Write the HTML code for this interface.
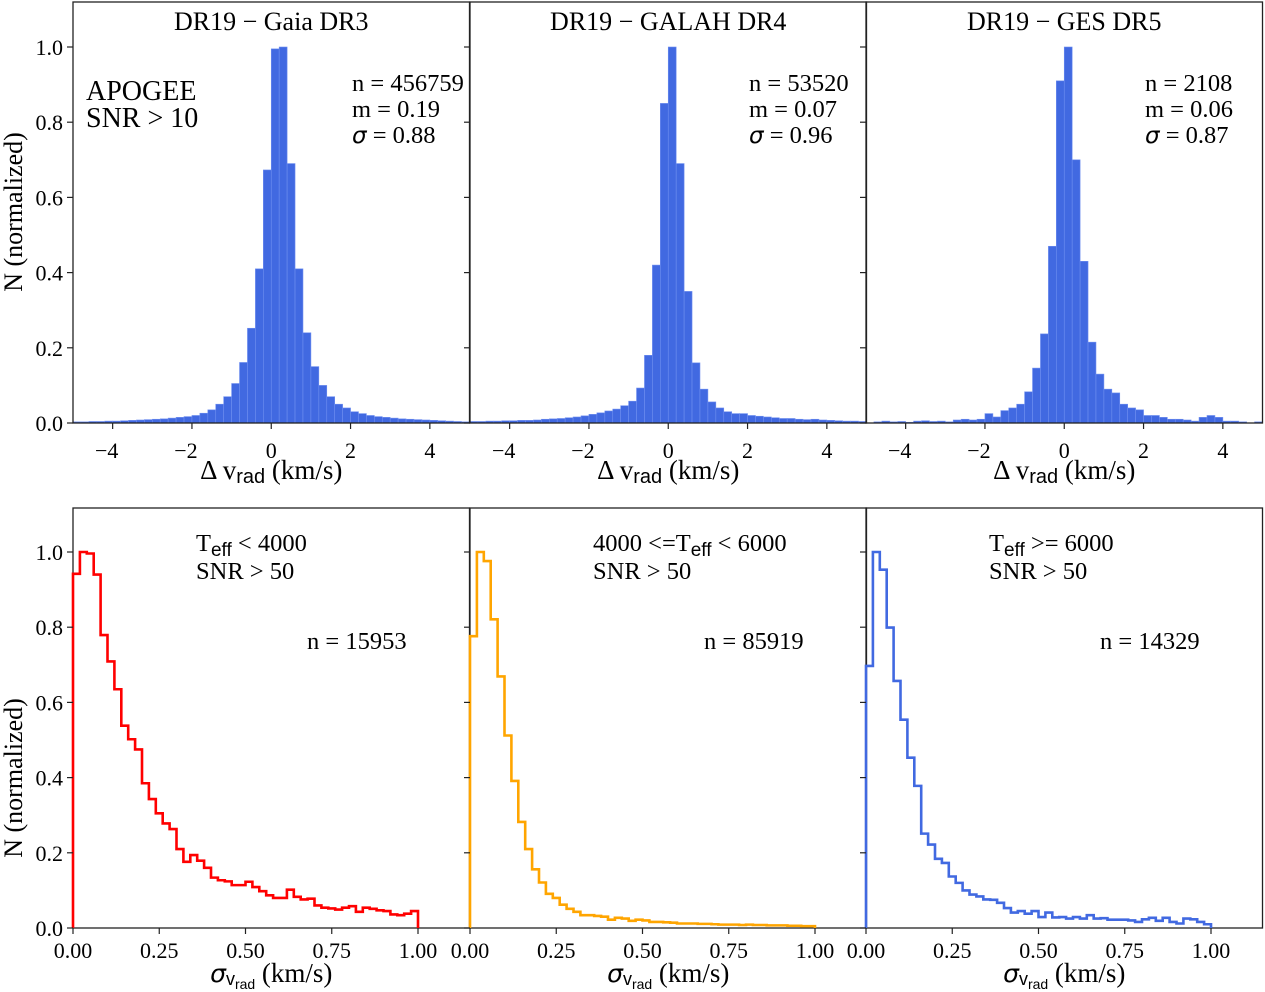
<!DOCTYPE html>
<html><head><meta charset="utf-8">
<style>
html,body{margin:0;padding:0;background:#fff;}
svg{display:block;font-family:"Liberation Serif",serif;}
</style></head>
<body>
<svg id="chart" width="1265" height="992" viewBox="0 0 1265 992" xmlns="http://www.w3.org/2000/svg"></svg>
<script>
// ---- data ----
const topBinStart = -5, topBinWidth = 0.2;
const gaiaValues = [0.003,0.003,0.004,0.004,0.005,0.005,0.006,0.007,0.008,0.009,0.010,0.011,0.013,0.015,0.017,0.02,0.026,0.035,0.05,0.07,0.105,0.161,0.252,0.41,0.673,0.995,1.0,0.69,0.41,0.24,0.15,0.1,0.07,0.05,0.04,0.03,0.025,0.02,0.017,0.015,0.013,0.011,0.01,0.009,0.008,0.007,0.006,0.005,0.004,0.003];
const galahValues = [0.004,0.004,0.005,0.005,0.006,0.006,0.007,0.007,0.008,0.01,0.011,0.012,0.014,0.016,0.019,0.023,0.027,0.032,0.037,0.046,0.058,0.093,0.18,0.42,0.85,1.0,0.69,0.35,0.16,0.09,0.056,0.04,0.03,0.025,0.025,0.02,0.018,0.016,0.014,0.012,0.012,0.01,0.009,0.01,0.008,0.007,0.006,0.005,0.005,0.004];
const gesValues = [0,0.003,0.005,0.003,0.004,0.002,0.005,0.006,0.004,0.005,0.003,0.008,0.01,0.008,0.01,0.025,0.016,0.033,0.04,0.05,0.083,0.146,0.237,0.47,0.91,1.0,0.70,0.43,0.215,0.13,0.09,0.08,0.05,0.04,0.035,0.02,0.02,0.015,0.01,0.01,0.008,0.005,0.015,0.02,0.015,0.005,0.005,0.003,0,0.003];
const topTitles = ["DR19 \u2212 Gaia DR3","DR19 \u2212 GALAH DR4","DR19 \u2212 GES DR5"];
const topN = ["456759","53520","2108"];
const topM = ["0.19","0.07","0.06"];
const topSigma = ["0.88","0.96","0.87"];
const topXTicks = [-4,-2,0,2,4];
const yTicks = [0.0,0.2,0.4,0.6,0.8,1.0];
const yTickLabels = ["0.0","0.2","0.4","0.6","0.8","1.0"];

const botBinStart = 0, botBinWidth = 0.02;
const coolValues = [0.942,1.0,0.996,0.94,0.779,0.709,0.635,0.538,0.502,0.475,0.385,0.343,0.305,0.278,0.263,0.21,0.176,0.194,0.179,0.16,0.134,0.127,0.124,0.114,0.114,0.123,0.109,0.098,0.087,0.08,0.08,0.102,0.083,0.076,0.078,0.06,0.054,0.052,0.049,0.054,0.058,0.043,0.054,0.051,0.047,0.045,0.036,0.034,0.038,0.045];
const midValues = [0.776,1.0,0.976,0.821,0.669,0.512,0.391,0.282,0.21,0.156,0.121,0.091,0.08,0.062,0.051,0.043,0.034,0.034,0.032,0.03,0.022,0.027,0.025,0.019,0.022,0.02,0.016,0.016,0.015,0.014,0.012,0.012,0.012,0.011,0.011,0.01,0.009,0.009,0.009,0.008,0.009,0.008,0.008,0.007,0.007,0.007,0.006,0.006,0.005,0.005];
const hotValues = [0.697,1.0,0.953,0.799,0.657,0.554,0.453,0.378,0.251,0.222,0.184,0.173,0.137,0.12,0.1,0.089,0.084,0.076,0.075,0.067,0.053,0.041,0.045,0.038,0.045,0.029,0.041,0.028,0.029,0.025,0.029,0.025,0.034,0.025,0.026,0.022,0.022,0.022,0.02,0.016,0.023,0.027,0.019,0.027,0.016,0.012,0.025,0.023,0.016,0.01];
const botXTicks = [0,0.25,0.5,0.75,1.0];
const botXTickLabels = ["0.00","0.25","0.50","0.75","1.00"];
const botTeff = [["T","eff"," &lt; 4000"],["4000 &lt;=T","eff"," &lt; 6000"],["T","eff"," &gt;= 6000"]];
const botN = ["15953","85919","14329"];
const botColors = ["#ff0000","#ffa500","#4169e1"];

// ---- layout ----
const NS = "http://www.w3.org/2000/svg";
const svg = document.getElementById("chart");
const panelLefts = [73,470,866];
const panelW = 396.5;
const topP = {y0:2, base:423};
const botP = {y0:508, base:928};
const yUnit = 376;
function el(tag, attrs, parent){const e=document.createElementNS(NS,tag);for(const k in attrs)e.setAttribute(k,attrs[k]);(parent||svg).appendChild(e);return e;}
function txt(s, attrs, parent){const t=el("text",attrs,parent);t.textContent=s;return t;}
function yScaleTop(v){return topP.base - v*yUnit;}
function yScaleBot(v){return botP.base - v*yUnit;}
function xScaleTop(i,v){return panelLefts[i] + (v + 5)/10*panelW;}
function xScaleBot(i,v){return panelLefts[i] + v*345;}

// ---- top histograms ----
const topData=[gaiaValues,galahValues,gesValues];
for(let p=0;p<3;p++){
  const g=el("g",{});
  
  
  topData[p].forEach((v,i)=>{
    const x0=xScaleTop(p,topBinStart+i*topBinWidth), x1=xScaleTop(p,topBinStart+(i+1)*topBinWidth);
    const r=el("rect",{x:x0,y:yScaleTop(v),width:x1-x0,height:topP.base-yScaleTop(v),fill:"#4169e1",stroke:"#6f8ff0","stroke-width":0.6},g);
    
    
  });
  const fr=el("rect",{x:panelLefts[p],y:topP.y0,width:panelW,height:topP.base-topP.y0,fill:"none",stroke:"#222","stroke-width":1.3},g);
  
  
  topXTicks.forEach(t=>{
    const x=xScaleTop(p,t);
    el("line",{x1:x,x2:x,y1:topP.base,y2:topP.base+6,stroke:"#222","stroke-width":1.2},g);
    const lab=txt((t<0?"\u2212":"")+Math.abs(t),{x:t<0?x-6:x,y:458,"font-size":22,"text-anchor":"middle"},g);
    
    
  });
  yTicks.forEach((t,k)=>{
    const y=yScaleTop(t);
    el("line",{x1:panelLefts[p]-6,x2:panelLefts[p],y1:y,y2:y,stroke:"#222","stroke-width":1.2},g);
    if(p===0){const l=txt(yTickLabels[k],{x:63,y:y+8,"font-size":22,"text-anchor":"end"},g);
      
      }
  });
  const cx=panelLefts[p]+panelW/2;
  const ti=txt(topTitles[p],{x:cx,y:30,"font-size":26,"text-anchor":"middle"},g);
  
  
  const xl=el("text",{x:cx,y:479,"font-size":27,"text-anchor":"middle"},g);
  
  
  xl.innerHTML='\u0394 v<tspan font-family="Liberation Sans, sans-serif" font-size="20" dy="4">rad</tspan><tspan dy="-4"> (km/s)</tspan>';
  const ax=panelLefts[p]+279;
  const a1=txt("n = "+topN[p],{x:ax,y:91,"font-size":24.5},g);
  
  
  const a2=txt("m = "+topM[p],{x:ax,y:117,"font-size":24.5},g);
  
  
  const a3=el("text",{x:ax,y:143,"font-size":24.5},g);
  a3.innerHTML='<tspan font-style="italic" font-family="DejaVu Sans, sans-serif" font-size="23">\u03c3</tspan> = '+topSigma[p];
  
  
}
const ap=txt("APOGEE",{x:86,y:100,"font-size":28});


const sn=txt("SNR > 10",{x:86,y:127,"font-size":28});



// ---- bottom step histograms ----
const botData=[coolValues,midValues,hotValues];
for(let p=0;p<3;p++){
  const g=el("g",{});
  
  
  const fr=el("rect",{x:panelLefts[p],y:botP.y0,width:panelW,height:botP.base-botP.y0,fill:"none",stroke:"#222","stroke-width":1.3},g);
  
  
  const vals=botData[p];
  let d="M"+xScaleBot(p,botBinStart)+","+yScaleBot(0);
  vals.forEach((v,i)=>{
    d+=" L"+xScaleBot(p,botBinStart+i*botBinWidth)+","+yScaleBot(v)+" L"+xScaleBot(p,botBinStart+(i+1)*botBinWidth)+","+yScaleBot(v);
  });
  d+=" L"+xScaleBot(p,botBinStart+vals.length*botBinWidth)+","+yScaleBot(0);
  const path=el("path",{d:d,fill:"none",stroke:botColors[p],"stroke-width":2.6},g);
  
  
  botXTicks.forEach((t,k)=>{
    const x=xScaleBot(p,t);
    el("line",{x1:x,x2:x,y1:botP.base,y2:botP.base+6,stroke:"#222","stroke-width":1.2},g);
    const lab=txt(botXTickLabels[k],{x:x,y:958,"font-size":22,"text-anchor":"middle"},g);
    
    
  });
  yTicks.forEach((t,k)=>{
    const y=yScaleBot(t);
    el("line",{x1:panelLefts[p]-6,x2:panelLefts[p],y1:y,y2:y,stroke:"#222","stroke-width":1.2},g);
    if(p===0){const l=txt(yTickLabels[k],{x:63,y:y+8,"font-size":22,"text-anchor":"end"},g);
      
      }
  });
  const cx=panelLefts[p]+panelW/2;
  const xl=el("text",{x:cx,y:982,"font-size":27,"text-anchor":"middle"},g);
  
  
  xl.innerHTML='<tspan font-style="italic" font-family="DejaVu Sans, sans-serif" font-size="25">\u03c3</tspan><tspan font-family="Liberation Sans, sans-serif" font-size="18" dy="3">v</tspan><tspan font-family="Liberation Sans, sans-serif" font-size="14" dy="4">rad</tspan><tspan dy="-7"> (km/s)</tspan>';
  const bx=panelLefts[p]+123;
  const t1=el("text",{x:bx,y:551,"font-size":24.5},g);
  t1.innerHTML=botTeff[p][0]+'<tspan font-family="Liberation Sans, sans-serif" font-size="19" dy="5">'+botTeff[p][1]+'</tspan><tspan dy="-5">'+botTeff[p][2]+'</tspan>';
  
  
  const t2=txt("SNR > 50",{x:bx,y:579,"font-size":24.5},g);
  
  
  const t3=txt("n = "+botN[p],{x:panelLefts[p]+234,y:649,"font-size":24.5},g);
  
  
}
// y axis titles
[212,778].forEach((cy)=>{
  const t=txt("N (normalized)",{x:0,y:0,"font-size":26,"text-anchor":"middle",transform:"translate(22,"+cy+") rotate(-90)"});
  
  
});
</script>
</body></html>
